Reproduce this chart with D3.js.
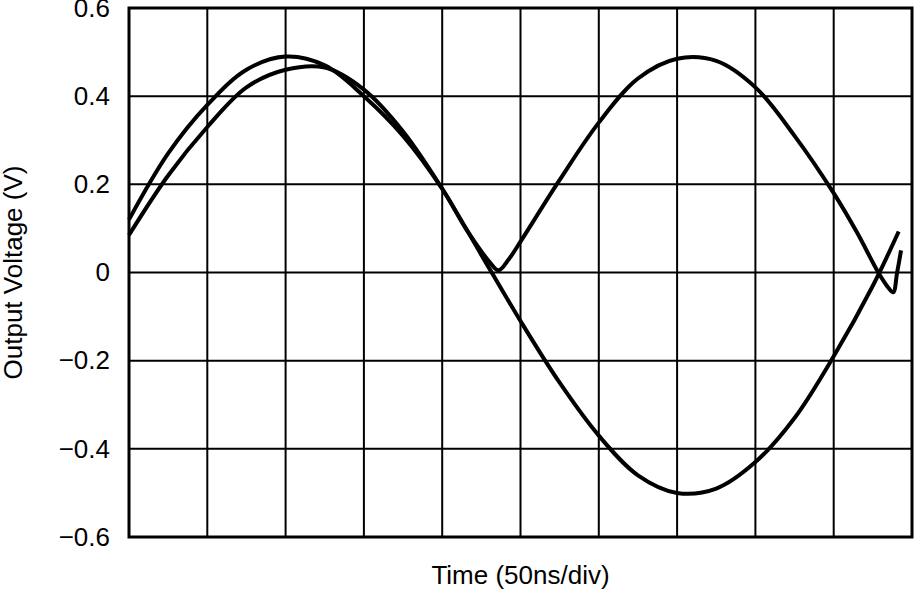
<!DOCTYPE html>
<html><head><meta charset="utf-8">
<script src="https://cdn.jsdelivr.net/npm/d3@7"></script>
<style>body{margin:0;background:#fff}</style>
</head><body>
<div id="chart"></div>
<script>
// time in divisions (50ns/div), voltage in V
var sineT = [0,0.5,1,1.5,2,2.5,3,3.5,4,4.5,5,5.5,6,6.5,7,7.5,8,8.5,9,9.5,9.83];
var sineV = [0.085,0.22,0.33,0.42,0.46,0.465,0.415,0.32,0.19,0.04,-0.11,-0.25,-0.37,-0.46,-0.50,-0.49,-0.43,-0.33,-0.19,-0.03,0.093];
var rectT = [0,0.5,1,1.5,2,2.5,3,3.5,4,4.3,4.6,4.72,4.85,5,5.5,6,6.5,7,7.5,8,8.5,9,9.3,9.57,9.7,9.76,9.81,9.86];
var rectV = [0.12,0.27,0.38,0.46,0.49,0.47,0.40,0.31,0.19,0.10,0.025,0.005,0.03,0.07,0.21,0.34,0.44,0.485,0.48,0.42,0.31,0.18,0.09,0.0,-0.035,-0.045,0.0,0.05];
var yTicks = [0.6,0.4,0.2,0,-0.2,-0.4,-0.6];

var margin = {top: 8, right: 2, bottom: 53, left: 129},
    width = 914 - margin.left - margin.right,
    height = 590 - margin.top - margin.bottom;

var svg = d3.select("#chart").append("svg")
    .attr("width", 914).attr("height", 590)
  .append("g")
    .attr("transform", "translate(" + margin.left + "," + margin.top + ")");

var x = d3.scaleLinear().domain([0, 10]).range([0, width]);
var y = d3.scaleLinear().domain([-0.6, 0.6]).range([height, 0]);

// grid
svg.append("g").selectAll("line").data(d3.range(1, 10)).enter().append("line")
    .attr("x1", d => x(d)).attr("x2", d => x(d))
    .attr("y1", 0).attr("y2", height)
    .attr("stroke", "#000").attr("stroke-width", 2);
svg.append("g").selectAll("line").data(yTicks.slice(1, -1)).enter().append("line")
    .attr("x1", 0).attr("x2", width)
    .attr("y1", d => y(d)).attr("y2", d => y(d))
    .attr("stroke", "#000").attr("stroke-width", 2);
svg.append("rect").attr("width", width).attr("height", height)
    .attr("fill", "none").attr("stroke", "#000").attr("stroke-width", 3);

var font = "Liberation Sans, Arial, sans-serif";
var yAxis = svg.append("g").call(d3.axisLeft(y).tickValues(yTicks)
    .tickSize(0).tickPadding(19)
    .tickFormat(d => d === 0 ? "0" : d3.format(".1f")(d).replace("-", "\u2013")));
yAxis.select(".domain").remove();
yAxis.selectAll("text").attr("font-family", font)
    .attr("font-size", "26px").attr("fill", "#000");

var line = d3.line().x(d => x(d[0])).y(d => y(d[1])).curve(d3.curveCatmullRom);
[[sineT, sineV], [rectT, rectV]].forEach(function(s) {
  svg.append("path").datum(s[0].map((t, i) => [t, s[1][i]]))
     .attr("d", line).attr("fill", "none")
     .attr("stroke", "#000").attr("stroke-width", 4);
});

svg.append("text").attr("x", width / 2).attr("y", height + 47)
    .attr("text-anchor", "middle").attr("font-family", font)
    .attr("font-size", "26px").text("Time (50ns/div)");
svg.append("text").attr("transform", "rotate(-90)")
    .attr("x", -height / 2).attr("y", -107)
    .attr("text-anchor", "middle").attr("font-family", font)
    .attr("font-size", "26px").text("Output Voltage (V)");
</script>
</body></html>
